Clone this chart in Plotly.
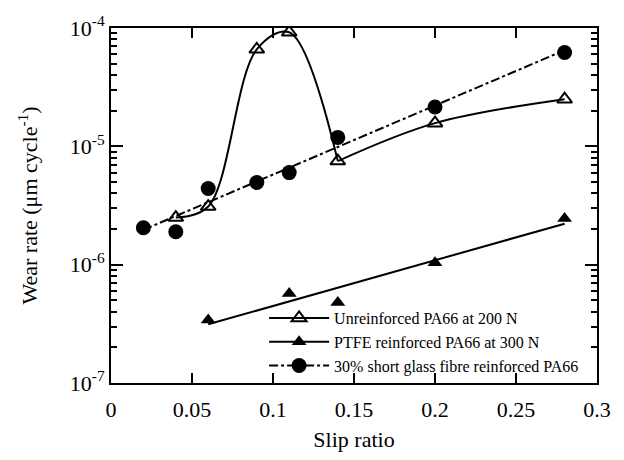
import numpy as np
import plotly.graph_objects as go

# Unreinforced PA66 at 200 N
unr_x = [0.04, 0.06, 0.09, 0.11, 0.14, 0.20, 0.28]
unr_y = [2.5e-6, 3.1e-6, 6.6e-5, 9.2e-5, 7.5e-6, 1.57e-5, 2.5e-5]

# PTFE reinforced PA66 at 300 N
ptfe_x = [0.06, 0.11, 0.14, 0.20, 0.28]
ptfe_y = [3.4e-7, 5.7e-7, 4.8e-7, 1.04e-6, 2.45e-6]

# 30% short glass fibre reinforced PA66
gf_x = [0.02, 0.04, 0.06, 0.09, 0.11, 0.14, 0.20, 0.28]
gf_y = [2.05e-6, 1.9e-6, 4.4e-6, 4.95e-6, 6.0e-6, 1.19e-5, 2.15e-5, 6.2e-5]

names = ["Unreinforced PA66 at 200 N",
         "PTFE reinforced PA66 at 300 N",
         "30% short glass fibre reinforced PA66"]

y_tickvals = [1e-7, 1e-6, 1e-5, 1e-4]
y_ticktext = ["10<sup>-7</sup>", "10<sup>-6</sup>", "10<sup>-5</sup>", "10<sup>-4</sup>"]
y_minor = [m * 10.0 ** e for e in (-7, -6, -5) for m in range(2, 10)]
x_tickvals = [0, 0.05, 0.1, 0.15, 0.2, 0.25, 0.3]
x_ticktext = ["0", "0.05", "0.1", "0.15", "0.2", "0.25", "0.3"]


def exp_fit(xs, ys):
    c = np.polyfit(np.array(xs), np.log10(np.array(ys)), 1)
    fx = np.array([min(xs), max(xs)])
    return fx, 10 ** np.polyval(c, fx)


font = "Liberation Serif"
fig = go.Figure()

tri_open = dict(symbol="triangle-up-open", size=13, color="black", line=dict(width=2, color="black"))
tri_fill = dict(symbol="triangle-up", size=13, color="black")
circ = dict(symbol="circle", size=15, color="black")

# fitted trend lines
px_, py_ = exp_fit(ptfe_x, ptfe_y)
fig.add_trace(go.Scatter(x=px_, y=py_, mode="lines", showlegend=False,
                         line=dict(color="black", width=2)))
gx_, gy_ = exp_fit(gf_x, gf_y)
fig.add_trace(go.Scatter(x=gx_, y=gy_, mode="lines", showlegend=False,
                         line=dict(color="black", width=2, dash="dashdot")))

# unreinforced: smooth curve in two pieces
k = unr_x.index(0.14)
fig.add_trace(go.Scatter(x=unr_x[:k + 1], y=unr_y[:k + 1], mode="lines", showlegend=False,
                         line=dict(color="black", width=2, shape="spline", smoothing=1.0)))
fig.add_trace(go.Scatter(x=unr_x[k:], y=unr_y[k:], mode="lines", showlegend=False,
                         line=dict(color="black", width=2, shape="spline", smoothing=1.0)))

# markers
fig.add_trace(go.Scatter(x=unr_x, y=unr_y, mode="markers", showlegend=False, marker=tri_open))
fig.add_trace(go.Scatter(x=ptfe_x, y=ptfe_y, mode="markers", showlegend=False, marker=tri_fill))
fig.add_trace(go.Scatter(x=gf_x, y=gf_y, mode="markers", showlegend=False, marker=circ))

# legend entries
fig.add_trace(go.Scatter(x=[None], y=[None], mode="lines+markers", name=names[0],
                         line=dict(color="black", width=2), marker=tri_open))
fig.add_trace(go.Scatter(x=[None], y=[None], mode="lines+markers", name=names[1],
                         line=dict(color="black", width=2), marker=tri_fill))
fig.add_trace(go.Scatter(x=[None], y=[None], mode="lines+markers", name=names[2],
                         line=dict(color="black", width=2, dash="dashdot"), marker=circ))

fig.update_layout(
    width=608, height=444,
    margin=dict(l=103, r=19, t=20, b=69, autoexpand=False),
    paper_bgcolor="white", plot_bgcolor="white",
    font=dict(family=font, color="black", size=21),
    showlegend=True,
    legend=dict(x=0.315, y=0.0, xanchor="left", yanchor="bottom",
                bgcolor="rgba(255,255,255,0)", font=dict(size=16, family=font),
                tracegroupgap=0, itemwidth=60, borderwidth=0),
    xaxis=dict(range=[0, 0.3], tickvals=x_tickvals, ticktext=x_ticktext,
               ticks="inside", ticklen=10, tickwidth=1.5, tickcolor="black",
               showline=True, linecolor="black", linewidth=2, mirror="ticks",
               showgrid=False, zeroline=False, automargin=False, ticklabelstandoff=6,
               title=dict(text="Slip ratio", font=dict(size=22), standoff=14),
               tickfont=dict(size=22)),
    yaxis=dict(type="log", range=[-7, -4], tickvals=y_tickvals, ticktext=y_ticktext,
               ticks="inside", ticklen=12, tickwidth=1.5, tickcolor="black",
               showline=True, linecolor="black", linewidth=2, mirror="ticks",
               showgrid=False, zeroline=False, automargin=False,
               minor=dict(tickvals=y_minor, ticks="inside", ticklen=6, tickwidth=1.5,
                          tickcolor="black", showgrid=False),
               title=dict(text="Wear rate (μm cycle<sup>-1</sup>)", font=dict(size=22), standoff=26),
               tickfont=dict(size=22)),
)

fig.write_html("out.html")
